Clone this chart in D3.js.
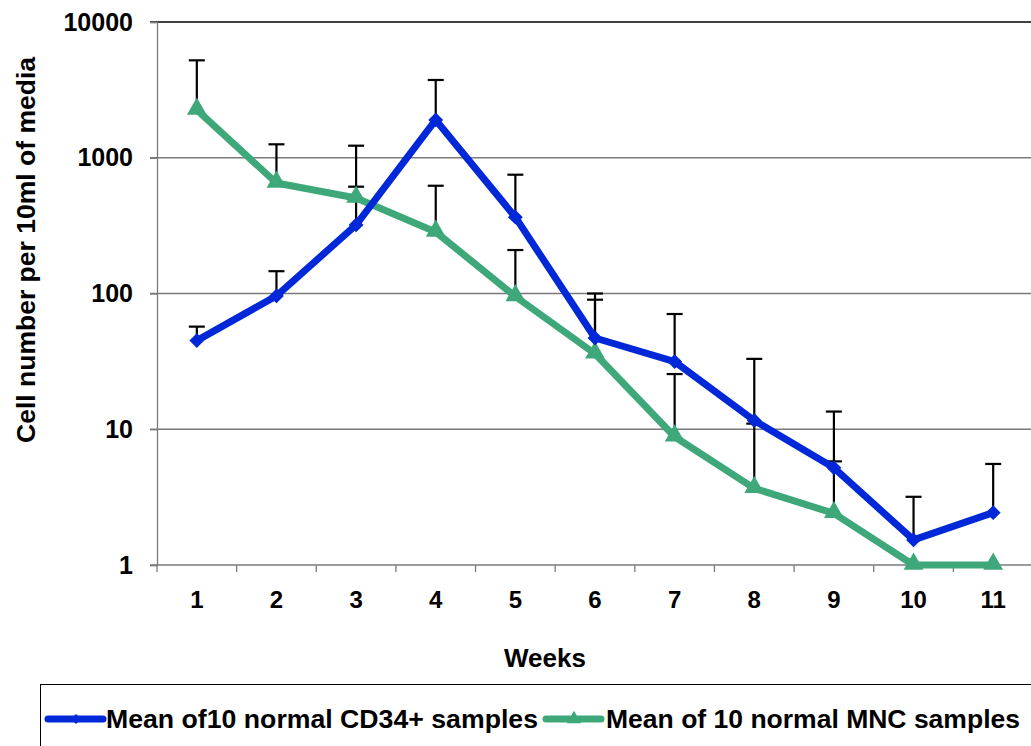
<!DOCTYPE html>
<html>
<head>
<meta charset="utf-8">
<script src="https://cdn.jsdelivr.net/npm/d3@7"></script>
<style>
  body { margin: 0; background: #fff; }
  text { font-family: Arial, "Liberation Sans", sans-serif; font-weight: bold; }
</style>
</head>
<body>
<div id="chart"></div>
<script>
const weeks = ['1', '2', '3', '4', '5', '6', '7', '8', '9', '10', '11']
const cd34Mean = [45, 96, 320, 1900, 365, 47, 31.5, 11.6, 5.2, 1.53, 2.43]
const cd34Upper = [57, 146, 612, 3740, 750, 100, 70.6, 33, 13.5, 3.18, 5.55]
const mncMean = [2250, 652, 505, 284, 95, 36, 8.8, 3.67, 2.4, 1, 1]
const mncUpper = [5220, 1256, 1227, 622, 209, 90, 25.5, 11, 5.8, null, null]
const yTicks = [1, 10, 100, 1000, 10000]
const legendLabels = ['Mean of10 normal CD34+ samples', 'Mean of 10 normal MNC samples']

const w = 1031
const h = 746
const margin = { top: 22, right: -2, bottom: 181, left: 157 }
const blue = '#0027d8'
const green = '#3ea87b'

const svg = d3.select('#chart').append('svg')
  .attr('width', w)
  .attr('height', h)

const x = d3.scaleBand().domain(weeks).range([margin.left, w - margin.right])
const y = d3.scaleLog().domain([1, 10000]).range([h - margin.bottom, margin.top])
const cx = d => x(d) + x.bandwidth() / 2

// grid lines
svg.append('g')
  .selectAll('line')
  .data(yTicks)
  .enter().append('line')
  .attr('x1', margin.left - 7)
  .attr('x2', w)
  .attr('y1', d => y(d))
  .attr('y2', d => y(d))
  .attr('stroke', d => d === 10000 ? '#000' : '#7a7a7a')
  .attr('stroke-width', 1.3)

// y axis
const yAxis = svg.append('g')
  .attr('transform', 'translate(' + margin.left + ',0)')
  .call(d3.axisLeft(y).tickValues(yTicks).tickFormat(d3.format('d')).tickSize(7).tickPadding(17))
yAxis.select('.domain').attr('stroke', '#7a7a7a').attr('stroke-width', 1.3)
yAxis.selectAll('.tick line').attr('stroke', '#7a7a7a').attr('stroke-width', 1.3)
yAxis.selectAll('text').attr('font-size', 25).attr('fill', '#000')

// x axis
const xAxis = svg.append('g')
  .attr('transform', 'translate(0,' + y(1) + ')')
  .call(d3.axisBottom(x).tickSize(0).tickPadding(26))
xAxis.select('.domain').remove()
xAxis.selectAll('text').attr('font-size', 24).attr('fill', '#000')
svg.append('g')
  .selectAll('line')
  .data(weeks.concat(['end']))
  .enter().append('line')
  .attr('x1', (d, i) => margin.left + i * x.bandwidth())
  .attr('x2', (d, i) => margin.left + i * x.bandwidth())
  .attr('y1', y(1))
  .attr('y2', y(1) + 7)
  .attr('stroke', '#7a7a7a')
  .attr('stroke-width', 1.3)

// axis titles
svg.append('text')
  .attr('x', 545)
  .attr('y', 667)
  .attr('text-anchor', 'middle')
  .attr('font-size', 26)
  .text('Weeks')
svg.append('text')
  .attr('transform', 'translate(35,250) rotate(-90)')
  .attr('text-anchor', 'middle')
  .attr('font-size', 26)
  .attr('textLength', 386)
  .attr('lengthAdjust', 'spacingAndGlyphs')
  .text('Cell number per 10ml of media')

// error bars
const drawErrors = (means, uppers) => {
  const rows = weeks.map((wk, i) => ({ wk, m: means[i], u: uppers[i] })).filter(d => d.u)
  const g = svg.append('g').attr('stroke', '#000').attr('stroke-width', 2.2)
  g.selectAll('.bar').data(rows).enter().append('line')
    .attr('x1', d => cx(d.wk)).attr('x2', d => cx(d.wk))
    .attr('y1', d => y(d.m)).attr('y2', d => y(d.u))
  g.selectAll('.cap').data(rows).enter().append('line')
    .attr('x1', d => cx(d.wk) - 8).attr('x2', d => cx(d.wk) + 8)
    .attr('y1', d => y(d.u)).attr('y2', d => y(d.u))
}
drawErrors(cd34Mean, cd34Upper)
drawErrors(mncMean, mncUpper)

const line = d3.line().x((d, i) => cx(weeks[i])).y(d => y(d))
const diamond = d3.symbol().type(d3.symbolSquare)

// MNC series
svg.append('path')
  .datum(mncMean)
  .attr('d', line)
  .attr('fill', 'none')
  .attr('stroke', green)
  .attr('stroke-width', 7)
  .attr('stroke-linejoin', 'round')
svg.append('g').selectAll('path')
  .data(mncMean)
  .enter().append('path')
  .attr('d', d3.symbol().type(d3.symbolTriangle).size(170))
  .attr('transform', (d, i) => 'translate(' + cx(weeks[i]) + ',' + (y(d) - 1) + ')')
  .attr('fill', green)

// CD34 series
svg.append('path')
  .datum(cd34Mean)
  .attr('d', line)
  .attr('fill', 'none')
  .attr('stroke', blue)
  .attr('stroke-width', 7)
  .attr('stroke-linejoin', 'round')
svg.append('g').selectAll('path')
  .data(cd34Mean)
  .enter().append('path')
  .attr('d', diamond.size(110))
  .attr('transform', (d, i) => 'translate(' + cx(weeks[i]) + ',' + y(d) + ') rotate(45)')
  .attr('fill', blue)

// legend
svg.append('rect')
  .attr('x', 40.5)
  .attr('y', 684.5)
  .attr('width', 1000)
  .attr('height', 80)
  .attr('fill', 'none')
  .attr('stroke', '#000')
  .attr('stroke-width', 1)

const legendItems = [
  { label: legendLabels[0], color: blue, x0: 48, tx: 106, tw: 432 },
  { label: legendLabels[1], color: green, x0: 546, tx: 606, tw: 414 }
]
const lg = svg.append('g').selectAll('g').data(legendItems).enter().append('g')
lg.append('line')
  .attr('x1', d => d.x0).attr('x2', d => d.x0 + 55)
  .attr('y1', 719).attr('y2', 719)
  .attr('stroke', d => d.color)
  .attr('stroke-width', 7)
  .attr('stroke-linecap', 'round')
lg.append('path')
  .attr('d', (d, i) => i === 0 ? d3.symbol().type(d3.symbolSquare).size(50)() : d3.symbol().type(d3.symbolTriangle).size(90)())
  .attr('transform', (d, i) => 'translate(' + (d.x0 + 28) + ',719)' + (i === 0 ? ' rotate(45)' : ''))
  .attr('fill', d => d.color)
lg.append('text')
  .attr('x', d => d.tx)
  .attr('y', 728)
  .attr('font-size', 25)
  .attr('textLength', d => d.tw)
  .attr('lengthAdjust', 'spacingAndGlyphs')
  .text(d => d.label)
</script>
</body>
</html>
